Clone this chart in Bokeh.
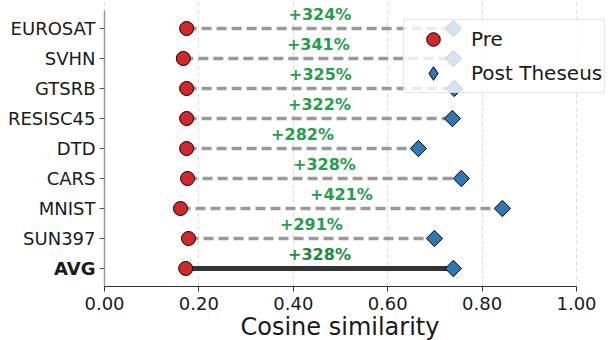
import math
from bokeh.plotting import figure
from bokeh.models import (ColumnDataSource, Range1d, FixedTicker, PrintfTickFormatter,
                          Legend, LegendItem, Title)
from bokeh.core.properties import value
from bokeh.embed import file_html
from bokeh.resources import INLINE

datasets = ["EUROSAT", "SVHN", "GTSRB", "RESISC45", "DTD", "CARS", "MNIST", "SUN397", "AVG"]
pre = [0.174, 0.167, 0.174, 0.174, 0.174, 0.176, 0.161, 0.178, 0.172]
post = [0.739, 0.739, 0.741, 0.737, 0.665, 0.756, 0.843, 0.699, 0.739]
gains = ["+324%", "+341%", "+325%", "+322%", "+282%", "+328%", "+421%", "+291%", "+328%"]
x_ticks = [0.0, 0.2, 0.4, 0.6, 0.8, 1.0]

n = len(datasets)
rows = [n - 1 - i for i in range(n)]  # EUROSAT top, AVG bottom
is_avg = [d == "AVG" for d in datasets]

FONT = "DejaVu Sans"
W, H = 611, 340
LEFT_PX, RIGHT_PX = 104, 576      # pixel position of x=0 and x=1
BOTTOM_BORDER = 54
FRAME_H = H - BOTTOM_BORDER
ROW_PX = 30
Y_LO = -0.6
x_scale = (RIGHT_PX - LEFT_PX) / 1.0
x_start = -LEFT_PX / x_scale
x_end = (W - LEFT_PX) / x_scale
y_end = Y_LO + FRAME_H / ROW_PX

p = figure(width=W, height=H, output_backend="svg", toolbar_location=None,
           x_range=Range1d(x_start, x_end), y_range=Range1d(Y_LO, y_end),
           y_axis_location=None,
           min_border_left=0, min_border_right=0, min_border_top=0,
           min_border_bottom=BOTTOM_BORDER)
p.outline_line_color = None
p.background_fill_color = "white"
p.border_fill_color = "white"

# grid
p.ygrid.grid_line_color = None
p.xgrid.ticker = FixedTicker(ticks=x_ticks)
p.xgrid.grid_line_color = "#dddddd"
p.xgrid.grid_line_dash = "4 3"
p.xgrid.grid_line_width = 1

# left spine + ticks + category labels (drawn so that AVG can be bold)
p.segment(x0=[0], y0=[Y_LO], x1=[0], y1=[8.6], line_color="#999999", line_width=1.5)
p.ray(x=[0] * n, y=rows, length=5, length_units="screen", angle=math.pi,
      line_color="#555555", line_width=1)
cat_src = ColumnDataSource(dict(
    x=[0] * n, y=rows, t=datasets,
    fs=["bold" if a else "normal" for a in is_avg]))
p.text(x="x", y="y", text="t", source=cat_src, x_offset=-9,
       text_font=value(FONT), text_font_size="18px", text_font_style="fs",
       text_color="#1a1a1a", text_align="right", text_baseline="middle")

# segments
seg_src = ColumnDataSource(dict(
    x0=[pre[i] for i in range(n) if not is_avg[i]],
    x1=[post[i] for i in range(n) if not is_avg[i]],
    y=[rows[i] for i in range(n) if not is_avg[i]]))
p.segment(x0="x0", y0="y", x1="x1", y1="y", source=seg_src,
          line_color="#9a9a9a", line_width=3.5, line_dash="10 5")
avg_src = ColumnDataSource(dict(
    x0=[pre[i] for i in range(n) if is_avg[i]],
    x1=[post[i] for i in range(n) if is_avg[i]],
    y=[rows[i] for i in range(n) if is_avg[i]]))
p.segment(x0="x0", y0="y", x1="x1", y1="y", source=avg_src,
          line_color="#333333", line_width=5)

src = ColumnDataSource(dict(pre=pre, post=post, y=rows))
r_pre = p.scatter(x="pre", y="y", source=src, marker="circle", size=14,
                  fill_color="#d62728", line_color="black", line_width=1)
p.scatter(x="post", y="y", source=src, marker="square", size=11.5, angle=math.pi / 4,
          fill_color="#2a7ab9", line_color="black", line_width=1)
# legend-only (hidden) renderer so the legend swatch is a diamond
r_post_leg = p.scatter(x="post", y="y", source=src, marker="diamond", size=14,
                       fill_color="#2a7ab9", line_color="black", line_width=1)
r_post_leg.visible = False

# gain labels
lab_src = ColumnDataSource(dict(
    x=[(a + b) / 2 for a, b in zip(pre, post)],
    y=[r + 0.47 for r in rows],
    t=gains,
    c=["#1c8a3c" if a else "#23a04a" for a in is_avg]))
p.text(x="x", y="y", text="t", source=lab_src, text_color="c",
       text_font=value(FONT), text_font_size="16px", text_font_style="bold",
       text_align="center", text_baseline="middle")

# bottom axis
p.xaxis.bounds = (0, 1.0)
p.xaxis.ticker = FixedTicker(ticks=x_ticks)
p.xaxis.formatter = PrintfTickFormatter(format="%.2f")
p.xaxis.major_label_text_font = FONT
p.xaxis.major_label_text_font_size = "18px"
p.xaxis.major_label_text_color = "#1a1a1a"
p.xaxis.major_label_standoff = 5
p.xaxis.axis_line_color = "#333333"
p.xaxis.axis_line_width = 1.2
p.xaxis.major_tick_line_color = "#333333"
p.xaxis.major_tick_out = 5
p.xaxis.major_tick_in = 0
p.xaxis.minor_tick_line_color = None

xlabel = Title(text="Cosine similarity", align="left", offset=240, standoff=-4,
               text_font=FONT, text_font_size="24px", text_font_style="normal",
               text_color="#1a1a1a")
p.add_layout(xlabel, "below")

legend = Legend(items=[LegendItem(label="Pre", renderers=[r_pre]),
                       LegendItem(label="Post Theseus", renderers=[r_post_leg])],
                location=(403, FRAME_H - 93), orientation="vertical")
legend.label_text_font = FONT
legend.label_text_font_size = "20px"
legend.label_text_color = "#1a1a1a"
legend.padding = 2
legend.margin = 0
legend.glyph_width = 54
legend.glyph_height = 34
legend.label_height = 34
legend.label_standoff = 11
legend.spacing = -4
legend.background_fill_color = "white"
legend.background_fill_alpha = 0.8
legend.border_line_color = "#cccccc"
legend.border_line_width = 1
p.add_layout(legend, "center")

open("out.html", "w").write(file_html(p, INLINE))
